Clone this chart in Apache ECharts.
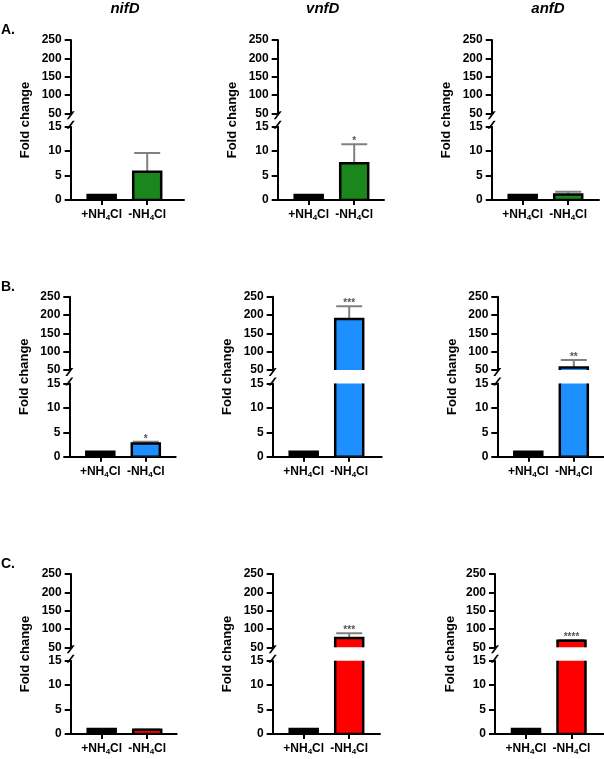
<!DOCTYPE html>
<html>
<head>
    <meta charset="utf-8" />
    <title>Fold change | nifD vnfD anfD</title>
    <script type="text/javascript" src="https://cdn.jsdelivr.net/npm/echarts@6/dist/echarts.min.js"></script>
    <style>
        html, body { margin: 0; height: 100%; background: #fff; }
        #main { width: 604px; height: 759px; }
    </style>
</head>
<body>
    <div id="main"></div>
    <script type="text/javascript">
        // data
        var genes = ['nifD', 'vnfD', 'anfD'];
        var rowNames = ['A.', 'B.', 'C.'];
        var conditions = ['+NH4Cl', '-NH4Cl'];
        var rowColors = ['#1b861b', '#1e8fff', '#ff0000'];

        // mean fold change per gene: [+NH4Cl, -NH4Cl]
        var meanA = [[1.0, 5.8], [1.0, 7.5], [1.0, 1.1]];
        var sdA = [[0, 3.8], [0, 3.9], [0, 0.6]];
        var starsA = ['', '*', ''];
        var meanB = [[1.0, 2.7], [1.0, 189], [1.0, 57]];
        var sdB = [[0, 0.35], [0, 35], [0, 20]];
        var starsB = ['*', '***', '**'];
        var meanC = [[1.0, 0.85], [1.0, 75.5], [1.0, 68]];
        var sdC = [[0, 0.05], [0, 12.7], [0, 2]];
        var starsC = ['', '***', '****'];

        // y segments: [min, max, interval]
        var lowerScale = [0, 15, 5];
        var upperScale = [50, 250, 50];

        // layout
        var axisLeft = [[70.7, 277.7, 491.7], [69.3, 272.7, 497.3], [70.7, 272.7, 495]];
        var axisRight = [[184, 384, 599], [175.7, 381.7, 604], [176.7, 380, 604]];
        var rowTop = [40, 296.7, 574];
        var segH = 73.3, segGap = 13.4;
        var catStep = 45.5, catOffset = 31;
        var FONT = '"Liberation Sans", Arial, sans-serif';
        var breakPath = 'path://M0,10 L2.6,10 L10,0 L7.4,0 Z';

        var means = [meanA, meanB, meanC];
        var sds = [sdA, sdB, sdC];
        var stars = [starsA, starsB, starsC];

        function nhLabel(v) {
            var t = conditions[Math.round(v)];
            return '{b|' + t.slice(0, 3) + '}{s|4}{b|' + t.slice(4) + '}';
        }

        function makeRender(r, c) {
            return function (params, api) {
                var i = api.value(0), m = api.value(1), s = api.value(2);
                var base = api.coord([i, 0]);
                var top = api.coord([i, m]);
                var errTop = api.coord([i, m + s]);
                var w = 28, cap = 13;
                var kids = [];
                if (s > 0) {
                    kids.push({ type: 'line', shape: { x1: top[0], y1: top[1], x2: top[0], y2: errTop[1] },
                        style: { stroke: '#808080', lineWidth: 2 } });
                    kids.push({ type: 'line', shape: { x1: top[0] - cap, y1: errTop[1], x2: top[0] + cap, y2: errTop[1] },
                        style: { stroke: '#808080', lineWidth: 2 } });
                }
                kids.push({ type: 'rect', shape: { x: base[0] - w / 2, y: top[1], width: w, height: base[1] - top[1] },
                    style: { fill: i === 0 ? '#000' : rowColors[r], stroke: '#000', lineWidth: 2.5 } });
                var st = i === 1 ? stars[r][c] : '';
                if (st) {
                    kids.push({ type: 'text', x: top[0], y: errTop[1] + 2,
                        style: { text: st, fill: '#555', font: 'bold 10px ' + FONT,
                            align: 'center', verticalAlign: 'bottom' } });
                }
                return { type: 'group', children: kids };
            };
        }

        var grid = [], xAxis = [], yAxis = [], series = [], graphic = [];

        for (var r = 0; r < 3; r++) {
            graphic.push({ type: 'text', x: 1, y: rowTop[r] - 10,
                style: { text: rowNames[r], fill: '#000', font: 'bold 14px ' + FONT, align: 'left', verticalAlign: 'middle' } });
            for (var c = 0; c < 3; c++) {
                var L = axisLeft[r][c], R = axisRight[r][c];
                var xMin = -catOffset / catStep, xMax = (R - L - catOffset) / catStep;
                var tops = [rowTop[r], rowTop[r] + segH + segGap];
                graphic.push({ type: 'text', x: L - 45, y: rowTop[r] + segH + segGap / 2, rotation: Math.PI / 2,
                    style: { text: 'Fold change', fill: '#000', font: 'bold 13px ' + FONT, align: 'center', verticalAlign: 'middle' } });

                for (var seg = 0; seg < 2; seg++) {
                    var gi = grid.length;
                    var sc = seg === 0 ? upperScale : lowerScale;
                    grid.push({ left: L, top: tops[seg], width: R - L, height: segH });
                    xAxis.push({
                        type: 'value', gridIndex: gi, min: xMin, max: xMax, show: seg === 1,
                        axisLine: { onZero: false, lineStyle: { color: '#000', width: 2 } },
                        axisTick: { customValues: [0, 1], length: 5, lineStyle: { color: '#000', width: 2 } },
                        axisLabel: {
                            customValues: [0, 1], formatter: nhLabel, margin: 7,
                            rich: {
                                b: { fontSize: 12, fontWeight: 'bold', fontFamily: FONT, color: '#000' },
                                s: { fontSize: 8, fontWeight: 'bold', fontFamily: FONT, color: '#000', padding: [7, 0, 0, 0] }
                            }
                        },
                        splitLine: { show: false }
                    });
                    yAxis.push({
                        type: 'value', gridIndex: gi, min: sc[0], max: sc[1], interval: sc[2],
                        axisLine: {
                            show: true, onZero: false, lineStyle: { color: '#000', width: 2 },
                            symbol: seg === 0 ? [breakPath, 'none'] : ['none', breakPath],
                            symbolSize: [8, 10], symbolOffset: seg === 0 ? [-2, 0] : [0, 2]
                        },
                        axisTick: { show: true, length: 6, lineStyle: { color: '#000', width: 2 } },
                        axisLabel: { color: '#000', fontWeight: 'bold', fontSize: 12, fontFamily: FONT, margin: 9,
                            showMinLabel: true, showMaxLabel: true },
                        splitLine: { show: false }
                    });
                    var data = [];
                    for (var k = 0; k < 2; k++) {
                        var mv = means[r][c][k];
                        if (seg === 0 && mv <= upperScale[0]) continue;
                        data.push([k, mv, sds[r][c][k]]);
                    }
                    series.push({ type: 'custom', xAxisIndex: gi, yAxisIndex: gi, clip: true,
                        renderItem: makeRender(r, c), data: data, silent: true });
                }
            }
        }

        var titleX = [125, 322.7, 548];
        for (var g = 0; g < 3; g++) {
            graphic.push({ type: 'text', x: titleX[g], y: 8.5,
                style: { text: genes[g], fill: '#000', font: 'italic bold 15px ' + FONT, align: 'center', verticalAlign: 'middle' } });
        }

        var myChart = echarts.init(document.getElementById('main'));
        myChart.setOption({
            animation: false,
            backgroundColor: '#fff',
            grid: grid,
            xAxis: xAxis,
            yAxis: yAxis,
            series: series,
            graphic: graphic
        });
    </script>
</body>
</html>
